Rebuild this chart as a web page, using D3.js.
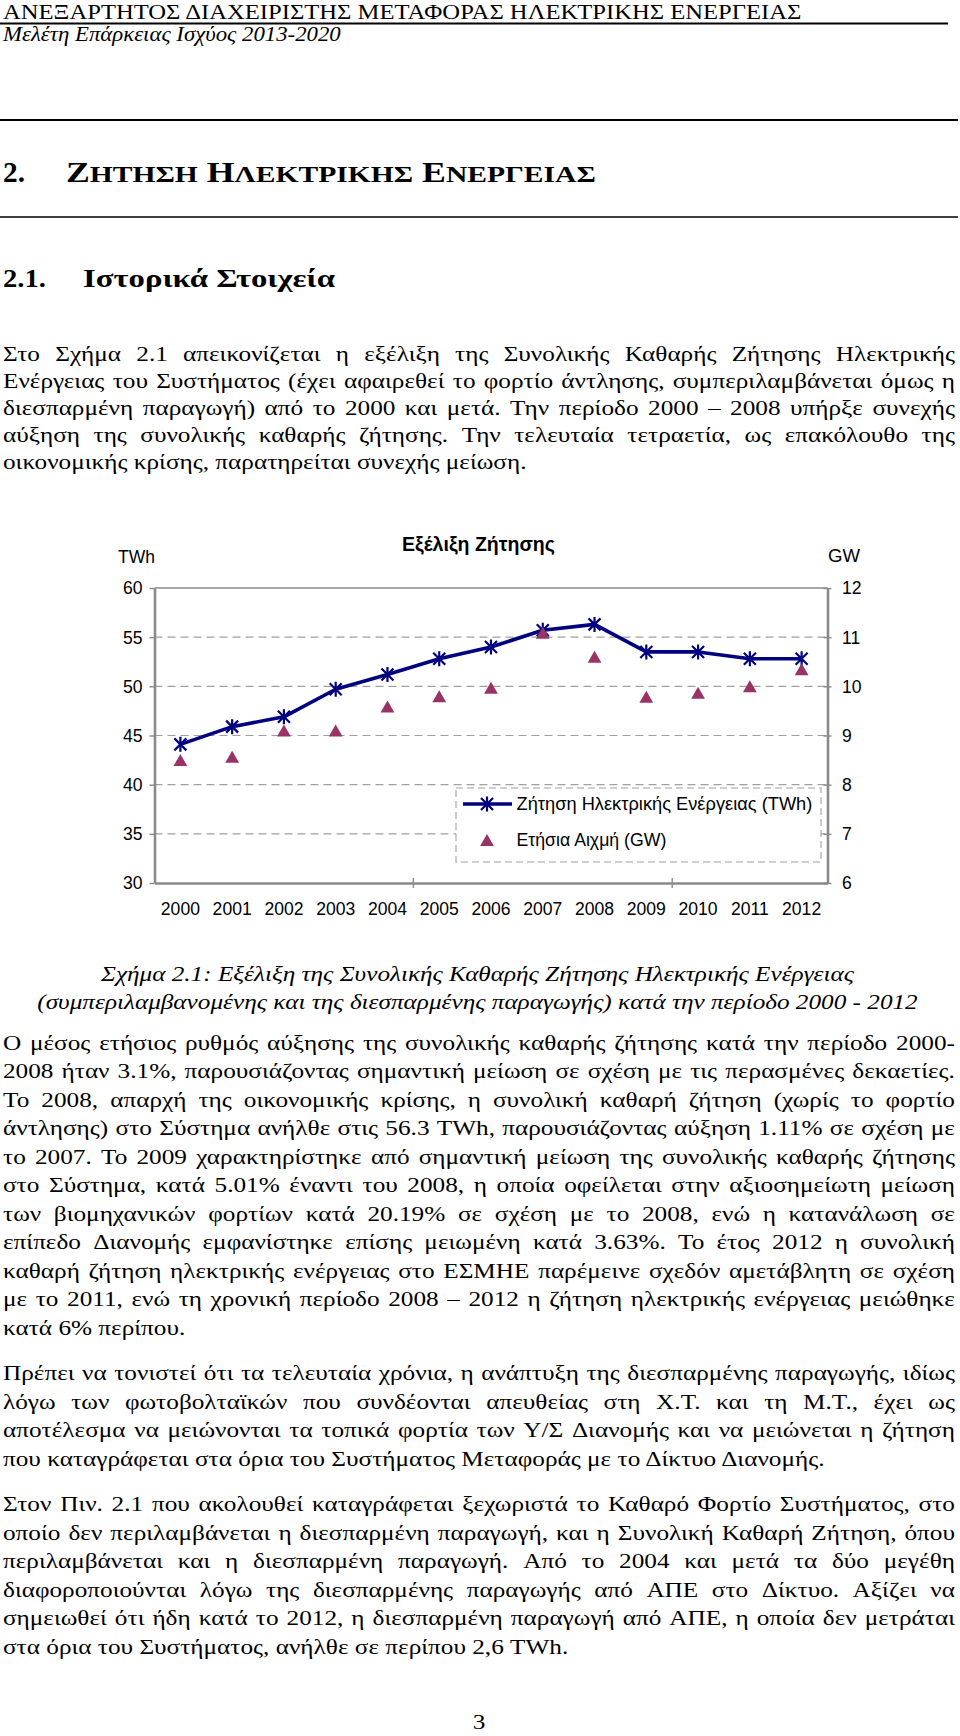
<!DOCTYPE html>
<html><head><meta charset="utf-8">
<script src="https://cdn.jsdelivr.net/npm/d3@7"></script>
<style>
html,body{margin:0;padding:0;background:#fff;}
svg{display:block;}
</style></head><body>
<svg id="page" width="960" height="1736"></svg>
<script>
// ---------- DATA ----------
const years = ["2000","2001","2002","2003","2004","2005","2006","2007","2008","2009","2010","2011","2012"];
const demandTWh = [44.1, 45.9, 46.9, 49.7, 51.2, 52.8, 54.0, 55.7, 56.3, 53.5, 53.5, 52.8, 52.8];
const peakGW = [8.50, 8.57, 9.10, 9.10, 9.59, 9.80, 9.97, 11.09, 10.60, 9.79, 9.87, 10.00, 10.35];
const twhTicks = [30, 35, 40, 45, 50, 55, 60];
const gwTicks = [6, 7, 8, 9, 10, 11, 12];
const chartTitle = "Εξέλιξη Ζήτησης";
const seriesNames = ["Ζήτηση Ηλεκτρικής Ενέργειας (TWh)", "Ετήσια Αιχμή (GW)"];
const leftUnit = "TWh";
const rightUnit = "GW";

// ---------- PAGE TEXT ----------
const headerTitle = "ΑΝΕΞΑΡΤΗΤΟΣ ΔΙΑΧΕΙΡΙΣΤΗΣ ΜΕΤΑΦΟΡΑΣ ΗΛΕΚΤΡΙΚΗΣ ΕΝΕΡΓΕΙΑΣ";
const headerSub = "Μελέτη Επάρκειας Ισχύος 2013-2020";
const chapterNum = "2.";
const chapterWords = [["Ζ","ΗΤΗΣΗ"],["Η","ΛΕΚΤΡΙΚΗΣ"],["Ε","ΝΕΡΓΕΙΑΣ"]];
const sectionNum = "2.1.";
const sectionTitle = "Ιστορικά Στοιχεία";
const para1 = [
"Στο Σχήμα 2.1 απεικονίζεται η εξέλιξη της Συνολικής Καθαρής Ζήτησης Ηλεκτρικής",
"Ενέργειας του Συστήματος (έχει αφαιρεθεί το φορτίο άντλησης, συμπεριλαμβάνεται όμως η",
"διεσπαρμένη παραγωγή) από το 2000 και μετά. Την περίοδο 2000 – 2008 υπήρξε συνεχής",
"αύξηση της συνολικής καθαρής ζήτησης. Την τελευταία τετραετία, ως επακόλουθο της",
"οικονομικής κρίσης, παρατηρείται συνεχής μείωση."];
const caption = [
"Σχήμα 2.1: Εξέλιξη της Συνολικής Καθαρής Ζήτησης Ηλεκτρικής Ενέργειας",
"(συμπεριλαμβανομένης και της διεσπαρμένης παραγωγής) κατά την περίοδο 2000 - 2012"];
const para2 = [
"Ο μέσος ετήσιος ρυθμός αύξησης της συνολικής καθαρής ζήτησης κατά την περίοδο 2000-",
"2008 ήταν 3.1%, παρουσιάζοντας σημαντική μείωση σε σχέση με τις περασμένες δεκαετίες.",
"Το 2008, απαρχή της οικονομικής κρίσης, η συνολική καθαρή ζήτηση (χωρίς το φορτίο",
"άντλησης) στο Σύστημα ανήλθε στις 56.3 TWh, παρουσιάζοντας αύξηση 1.11% σε σχέση με",
"το 2007. Το 2009 χαρακτηρίστηκε από σημαντική μείωση της συνολικής καθαρής ζήτησης",
"στο Σύστημα, κατά 5.01% έναντι του 2008, η οποία οφείλεται στην αξιοσημείωτη μείωση",
"των βιομηχανικών φορτίων κατά 20.19% σε σχέση με το 2008, ενώ η κατανάλωση σε",
"επίπεδο Διανομής εμφανίστηκε επίσης μειωμένη κατά 3.63%. Το έτος 2012 η συνολική",
"καθαρή ζήτηση ηλεκτρικής ενέργειας στο ΕΣΜΗΕ παρέμεινε σχεδόν αμετάβλητη σε σχέση",
"με το 2011, ενώ τη χρονική περίοδο 2008 – 2012 η ζήτηση ηλεκτρικής ενέργειας μειώθηκε",
"κατά 6% περίπου."];
const para3 = [
"Πρέπει να τονιστεί ότι τα τελευταία χρόνια, η ανάπτυξη της διεσπαρμένης παραγωγής, ιδίως",
"λόγω των φωτοβολταϊκών που συνδέονται απευθείας στη Χ.Τ. και τη Μ.Τ., έχει ως",
"αποτέλεσμα να μειώνονται τα τοπικά φορτία των Υ/Σ Διανομής και να μειώνεται η ζήτηση",
"που καταγράφεται στα όρια του Συστήματος Μεταφοράς με το Δίκτυο Διανομής."];
const para4 = [
"Στον Πιν. 2.1 που ακολουθεί καταγράφεται ξεχωριστά το Καθαρό Φορτίο Συστήματος, στο",
"οποίο δεν περιλαμβάνεται η διεσπαρμένη παραγωγή, και η Συνολική Καθαρή Ζήτηση, όπου",
"περιλαμβάνεται και η διεσπαρμένη παραγωγή. Από το 2004 και μετά τα δύο μεγέθη",
"διαφοροποιούνται λόγω της διεσπαρμένης παραγωγής από ΑΠΕ στο Δίκτυο. Αξίζει να",
"σημειωθεί ότι ήδη κατά το 2012, η διεσπαρμένη παραγωγή από ΑΠΕ, η οποία δεν μετράται",
"στα όρια του Συστήματος, ανήλθε σε περίπου 2,6 TWh."];
const pageNumber = "3";

// ---------- HELPERS ----------
const svg = d3.select("#page");
const serif = "'Liberation Serif','Times New Roman',serif";
const sans = "'Liberation Sans',Arial,sans-serif";
const meas = svg.append("text").attr("visibility", "hidden");
function textWidth(str, size, style, weight, family) {
  meas.attr("font-family", family || serif).attr("font-size", size)
      .attr("font-style", style || "normal").attr("font-weight", weight || "normal").text(str);
  return meas.node().getComputedTextLength();
}
// horizontal scale of a text element about its own x anchor
function scaleAbout(node, s) {
  const X = +(node.getAttribute("x") || 0);
  node.setAttribute("transform", `translate(${X},0) scale(${s},1) translate(${-X},0)`);
}
// place a single text and squeeze it horizontally to a target width
function fitText(str, x, y, size, targetW, opts) {
  opts = opts || {};
  const t = svg.append("text").attr("x", x).attr("y", y)
    .attr("font-family", opts.family || serif).attr("font-size", size)
    .attr("font-style", opts.style || "normal").attr("font-weight", opts.weight || "normal")
    .attr("text-anchor", opts.anchor || "start").text(str);
  const w = t.node().getComputedTextLength();
  scaleAbout(t.node(), targetW / w);
  return t;
}
const TL = 3, TR = 955;
const bodySize = 22;
const refs = [[para1[4], 525], [para2[10], 181], [para3[3], 823], [para4[5], 565]];
const bodySx = d3.sum(refs, r => r[1]) / d3.sum(refs, r => textWidth(r[0], bodySize));
function drawLine(str, y, justify) {
  const t = svg.append("text").attr("font-family", serif).attr("font-size", bodySize)
    .attr("x", TL).attr("y", y).attr("fill", "#000");
  scaleAbout(t.node(), bodySx);
  if (!justify) { t.text(str); return; }
  const words = str.split(" ");
  const ws = words.map(w => textWidth(w, bodySize));
  const localW = (TR - TL) / bodySx;
  const gap = (localW - d3.sum(ws)) / (words.length - 1);
  let cx = TL;
  words.forEach((w, i) => { t.append("tspan").attr("x", cx).text(w); cx += ws[i] + gap; });
}
function drawPara(lines, y0, pitch) {
  lines.forEach((l, i) => drawLine(l, y0 + i * pitch, i < lines.length - 1));
}

// ---------- HEADER ----------
fitText(headerTitle, 3, 18.7, 21, 799);
svg.append("line").attr("x1", 0).attr("x2", 948).attr("y1", 23.5).attr("y2", 23.5).attr("stroke", "#000").attr("stroke-width", 2);
fitText(headerSub, 3, 41, 22, 338, {style: "italic"});
svg.append("line").attr("x1", 0).attr("x2", 958).attr("y1", 120).attr("y2", 120).attr("stroke", "#000").attr("stroke-width", 2);

// chapter heading (small caps)
fitText(chapterNum, 3, 182.5, 29, 22, {weight: "bold"});
const ch = svg.append("text").attr("x", 66).attr("y", 182.5).attr("font-family", serif).attr("font-weight", "bold");
chapterWords.forEach((w, i) => {
  ch.append("tspan").attr("font-size", 29).text((i ? " " : "") + w[0]);
  ch.append("tspan").attr("font-size", 24).text(w[1]);
});
scaleAbout(ch.node(), 530 / ch.node().getComputedTextLength());
svg.append("line").attr("x1", 0).attr("x2", 958).attr("y1", 217).attr("y2", 217).attr("stroke", "#000").attr("stroke-width", 1.6);

// section heading
fitText(sectionNum, 3, 287.5, 25, 43, {weight: "bold"});
fitText(sectionTitle, 83, 287.5, 25, 252, {weight: "bold"});

// paragraph 1
drawPara(para1, 361, 27);

// ---------- CHART ----------
const M = {left: 154.5, right: 827.5, top: 588, bottom: 883};
const x = d3.scaleBand().domain(years).range([M.left, M.right]);
const cx = d => x(d) + x.bandwidth() / 2;
const yL = d3.scaleLinear().domain([30, 60]).range([M.bottom, M.top]);
const yR = d3.scaleLinear().domain([6, 12]).range([M.bottom, M.top]);
const axisCol = "#8a8a8a";
const chartFont = 18.5, chartSx = 0.95;

fitText(chartTitle, 478.5, 551, 21, 153, {family: sans, weight: "bold", anchor: "middle"});
fitText(leftUnit, 118, 563, chartFont, 37, {family: sans});
fitText(rightUnit, 828, 562, chartFont, 32, {family: sans});

const chart = svg.append("g").attr("font-family", sans);
// gridlines
chart.selectAll("line.grid").data(twhTicks.filter(v => v > 30 && v < 60)).join("line")
  .attr("class", "grid").attr("x1", M.left).attr("x2", M.right)
  .attr("y1", d => yL(d)).attr("y2", d => yL(d))
  .attr("stroke", "#a0a0a0").attr("stroke-width", 1.2).attr("stroke-dasharray", "8,5");
chart.append("line").attr("x1", M.left).attr("x2", M.right).attr("y1", yL(60)).attr("y2", yL(60))
  .attr("stroke", axisCol).attr("stroke-width", 1.4);

function styleAxis(g) {
  g.select(".domain").attr("stroke", axisCol).attr("stroke-width", 2.6);
  g.selectAll(".tick line").attr("stroke", axisCol).attr("stroke-width", 1.4);
  g.selectAll(".tick text").attr("font-family", sans).attr("font-size", chartFont).attr("fill", "#000")
    .each(function () { scaleAbout(this, chartSx); });
}
const gL = chart.append("g").attr("transform", `translate(${M.left},0)`)
  .call(d3.axisLeft(yL).tickValues(twhTicks).tickSize(5).tickSizeOuter(0).tickPadding(7).tickFormat(d3.format("d")));
styleAxis(gL);
const gR = chart.append("g").attr("transform", `translate(${M.right},0)`)
  .call(d3.axisRight(yR).tickValues(gwTicks).tickSize(4).tickSizeOuter(0).tickPadding(10.5).tickFormat(d3.format("d")));
styleAxis(gR);
gR.selectAll(".tick line").attr("x1", -4);
const gB = chart.append("g").attr("transform", `translate(0,${M.bottom})`)
  .call(d3.axisBottom(x).tickSize(0).tickSizeOuter(0).tickPadding(18.5));
styleAxis(gB);
// category tick marks every 5 categories
chart.selectAll("line.xt").data([years[5], years[10]]).join("line").attr("class", "xt")
  .attr("x1", d => x(d)).attr("x2", d => x(d)).attr("y1", M.bottom - 5).attr("y2", M.bottom + 5)
  .attr("stroke", axisCol).attr("stroke-width", 1.4);

// legend box
const lg = chart.append("g");
lg.append("rect").attr("x", 456).attr("y", 788).attr("width", 365).attr("height", 74)
  .attr("fill", "#fff").attr("stroke", "#a0a0a0").attr("stroke-width", 1.1).attr("stroke-dasharray", "7,4");

// series
const lineCol = "#000080", triCol = "#993366";
const demand = years.map((y, i) => ({y, v: demandTWh[i]}));
const peak = years.map((y, i) => ({y, v: peakGW[i]}));
chart.append("path").datum(demand)
  .attr("d", d3.line().x(d => cx(d.y)).y(d => yL(d.v)))
  .attr("fill", "none").attr("stroke", lineCol).attr("stroke-width", 3.6).attr("stroke-linejoin", "round");
const starPath = "M-6,-6L6,6M-6,6L6,-6M0,-7.5L0,7.5";
chart.selectAll("path.star").data(demand).join("path").attr("class", "star")
  .attr("transform", d => `translate(${cx(d.y)},${yL(d.v)})`)
  .attr("d", starPath).attr("stroke", lineCol).attr("stroke-width", 2.2).attr("fill", "none");
const triPath = "M0,-6L6.9,6L-6.9,6Z";
chart.selectAll("path.tri").data(peak).join("path").attr("class", "tri")
  .attr("transform", d => `translate(${cx(d.y)},${yR(d.v)})`)
  .attr("d", triPath).attr("fill", triCol);

// legend entries
lg.append("line").attr("x1", 463).attr("x2", 512).attr("y1", 804).attr("y2", 804)
  .attr("stroke", lineCol).attr("stroke-width", 3.6);
lg.append("path").attr("transform", "translate(487,804)").attr("d", starPath)
  .attr("stroke", lineCol).attr("stroke-width", 2.2).attr("fill", "none");
lg.append("path").attr("transform", "translate(487,840)").attr("d", triPath).attr("fill", triCol);
fitText(seriesNames[0], 516.5, 810, chartFont, 296, {family: sans});
fitText(seriesNames[1], 516.5, 846, chartFont, 150, {family: sans});

// ---------- CAPTION & PARAGRAPHS ----------
const capSize = 21.5;
const capSx = 881 / textWidth(caption[1], capSize, "italic");
caption.forEach((c, i) => {
  const t = svg.append("text").attr("x", 477.5).attr("y", 981 + i * 28)
    .attr("text-anchor", "middle").attr("font-family", serif).attr("font-style", "italic")
    .attr("font-size", capSize).text(c);
  scaleAbout(t.node(), capSx);
});

const pitch = 28.5, paraGap = 17;
const p3y = 1050 + (para2.length - 1) * pitch + pitch + paraGap;
const p4y = p3y + (para3.length - 1) * pitch + pitch + paraGap;
drawPara(para2, 1050, pitch);
drawPara(para3, p3y, pitch);
drawPara(para4, p4y, pitch);

const pn = svg.append("text").attr("x", 479).attr("y", 1729).attr("text-anchor", "middle")
  .attr("font-family", serif).attr("font-size", bodySize).text(pageNumber);
scaleAbout(pn.node(), bodySx);
meas.remove();
</script>
</body></html>
